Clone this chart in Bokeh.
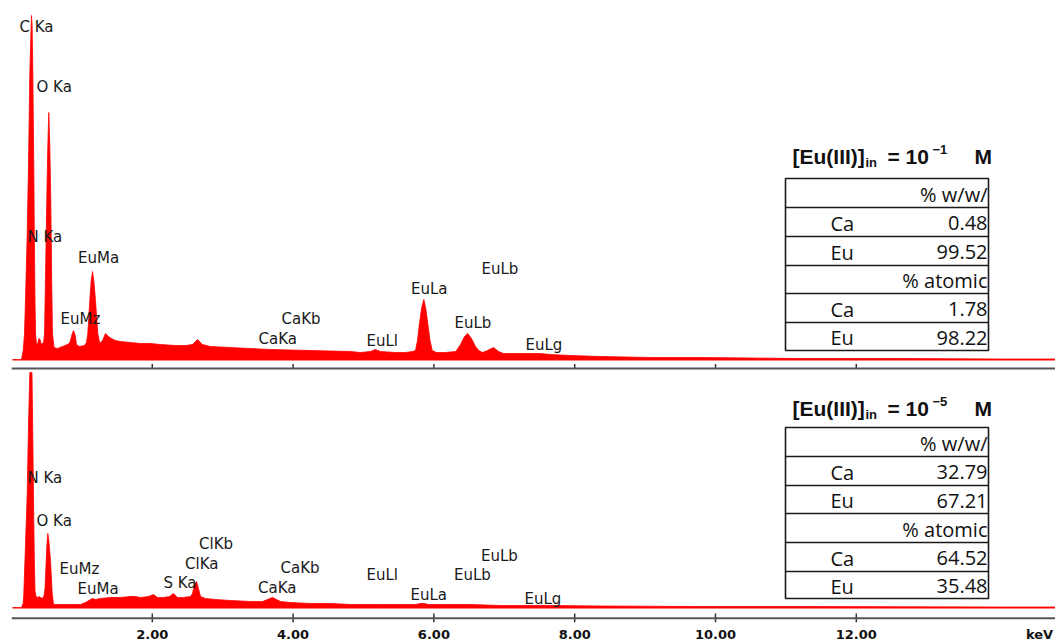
from bokeh.plotting import figure
from bokeh.models import Range1d, FixedTicker, Span
from bokeh.core.properties import value
from bokeh.embed import file_html
from bokeh.resources import INLINE

# ---------------- data ----------------
# EDS spectrum, [Eu(III)]in = 10^-1 M (counts, arbitrary units)
top_kev = [0.014, 0.142, 0.166, 0.185, 0.206, 0.223, 0.241, 0.260, 0.277, 0.284,
           0.293, 0.303, 0.317, 0.324, 0.334, 0.341, 0.355, 0.369, 0.391, 0.405,
           0.426, 0.455, 0.469, 0.487, 0.501, 0.516, 0.530, 0.544, 0.558, 0.571,
           0.582, 0.604, 0.653, 0.724, 0.795, 0.831, 0.859, 0.881, 0.902, 0.923,
           0.966, 1.037, 1.065, 1.084, 1.112, 1.132, 1.151, 1.172, 1.193, 1.226,
           1.254, 1.293, 1.335, 1.378, 1.420, 1.477, 1.548, 1.690, 1.832, 1.974,
           2.116, 2.330, 2.472, 2.571, 2.642, 2.713, 2.827, 3.111, 3.395, 3.679,
           3.963, 4.247, 4.531, 4.815, 4.957, 5.099, 5.170, 5.241, 5.455, 5.597,
           5.696, 5.739, 5.767, 5.795, 5.824, 5.857, 5.885, 5.913, 5.945, 5.976,
           6.037, 6.165, 6.307, 6.321, 6.378, 6.435, 6.482, 6.534, 6.591, 6.638,
           6.690, 6.761, 6.847, 6.918, 6.989, 7.159, 7.372, 7.514, 7.656, 7.940,
           8.366, 9.077, 9.787, 10.497, 11.207, 12.628, 14.048, 14.830]
top_counts = [10, 10, 100, 270, 800, 1270, 1930, 2870, 3300, 3450,
              3350, 2870, 1930, 1270, 600, 270, 170, 160, 220, 210,
              160, 180, 270, 1000, 1600, 2150, 2480, 2150, 1600, 800,
              270, 130, 120, 140, 160, 180, 260, 300, 260, 160,
              140, 150, 180, 270, 600, 800, 890, 780, 600, 270,
              170, 200, 270, 240, 220, 200, 190, 180, 170, 170,
              160, 150, 150, 160, 210, 160, 140, 130, 120, 110,
              105, 100, 95, 90, 80, 90, 110, 90, 80, 80,
              90, 100, 200, 370, 520, 610, 520, 370, 200, 100,
              80, 80, 90, 100, 160, 240, 270, 220, 140, 100,
              80, 100, 130, 90, 70, 70, 70, 70, 60, 50,
              40, 30, 30, 25, 20, 20, 15, 15]

# EDS spectrum, [Eu(III)]in = 10^-5 M
bottom_kev = [0.014, 0.142, 0.166, 0.175, 0.192, 0.209, 0.223, 0.241, 0.260, 0.291,
              0.303, 0.312, 0.324, 0.334, 0.348, 0.369, 0.391, 0.412, 0.440, 0.462,
              0.476, 0.493, 0.504, 0.516, 0.530, 0.554, 0.578, 0.597, 0.696, 0.838,
              0.980, 1.051, 1.122, 1.151, 1.193, 1.264, 1.406, 1.548, 1.690, 1.761,
              1.832, 1.946, 2.017, 2.074, 2.159, 2.244, 2.301, 2.358, 2.443, 2.543,
              2.571, 2.599, 2.628, 2.656, 2.685, 2.756, 2.898, 3.111, 3.395, 3.565,
              3.636, 3.707, 3.764, 3.821, 3.963, 4.247, 4.531, 4.815, 5.241, 5.526,
              5.739, 5.810, 5.867, 5.923, 6.094, 6.520, 6.946, 7.656, 8.366, 9.787,
              11.207, 14.048, 14.830]
bottom_counts = [10, 10, 50, 150, 500, 850, 1150, 1810, 2360, 2360,
                 1700, 1150, 500, 180, 120, 110, 120, 110, 100, 130,
                 200, 480, 650, 750, 680, 480, 150, 40, 40, 40,
                 40, 60, 90, 100, 90, 100, 110, 110, 120, 120,
                 110, 120, 140, 110, 110, 120, 150, 110, 110, 120,
                 150, 240, 270, 200, 120, 100, 90, 80, 70, 70,
                 90, 110, 90, 70, 60, 50, 50, 40, 40, 40,
                 40, 50, 50, 40, 40, 40, 30, 30, 25, 20,
                 20, 15, 15]

tick_kev = [2, 4, 6, 8, 10, 12]
tick_labels = ["2.00", "4.00", "6.00", "8.00", "10.00", "12.00"]
axis_unit = "keV"

top_lines = ["C Ka", "O Ka", "N Ka", "EuMa", "EuMz", "CaKb", "CaKa",
             "EuLl", "EuLa", "EuLb", "EuLb", "EuLg"]
bottom_lines = ["N Ka", "O Ka", "EuMz", "EuMa", "S Ka", "ClKa", "ClKb",
                "CaKb", "CaKa", "EuLl", "EuLb", "EuLb", "EuLa", "EuLg"]

concentration_exp = ["\u22121", "\u22125"]
table_headers = ["% w/w/", "% atomic"]
elements = ["Ca", "Eu"]
wt_percent = [["0.48", "99.52"], ["32.79", "67.21"]]
at_percent = [["1.78", "98.22"], ["64.52", "35.48"]]

# ---------------- layout (pixel positions in the picture) ----------------
W, H = 1055, 644
FRAME_LEFT, FRAME_BOTTOM = 11, 622
PX_PER_KEV = 70.4


def kx(px):
    return (px - FRAME_LEFT) / PX_PER_KEV


def ty(py):  # upper panel
    return (360 - py) * 10


def by(py):  # lower panel
    return (608 - py) * 10


top_line_pos = [(19, 26.5), (36, 86), (27, 236.5), (77.5, 257), (60, 318), (281, 318),
                (258, 338), (366, 340.5), (410.5, 288.5), (481, 268.5), (454, 322), (525, 344.5)]
bottom_line_pos = [(27, 477), (36, 520), (59, 568.5), (77, 588.5), (163, 582.5), (184.5, 563.5),
                   (198.5, 543), (280, 567), (257.5, 587), (366, 574), (453.5, 574), (480.5, 555),
                   (410, 594.5), (524, 598.5)]
unit_pos = kx(1039)

p = figure(width=W, height=H, output_backend="svg", toolbar_location=None,
           title=None, y_axis_location=None,
           x_range=Range1d(0, kx(W)), y_range=Range1d(by(FRAME_BOTTOM), by(0)),
           min_border_left=FRAME_LEFT, min_border_right=0, min_border_top=0,
           min_border_bottom=H - FRAME_BOTTOM)
p.extra_y_ranges = {"top": Range1d(ty(FRAME_BOTTOM), ty(0))}
p.grid.visible = False
p.outline_line_color = None
p.background_fill_color = "white"
p.border_fill_color = "white"

RED = "#ff0000"
# spectra
p.varea(x=top_kev, y1=0, y2=top_counts, fill_color=RED, y_range_name="top")
p.line(top_kev, top_counts, line_color=RED, line_width=0.8, y_range_name="top")
p.varea(x=bottom_kev, y1=0, y2=bottom_counts, fill_color=RED)
p.line(bottom_kev, bottom_counts, line_color=RED, line_width=0.8)

# energy axis: Bokeh axis supplies tick labels (and the unit), lines drawn below
ax = p.xaxis[0]
ax.ticker = FixedTicker(ticks=tick_kev + [unit_pos])
overrides = {k: v for k, v in zip(tick_kev, tick_labels)}
overrides[unit_pos] = axis_unit
ax.major_label_overrides = overrides
ax.axis_line_color = None
ax.major_tick_line_color = None
ax.major_tick_in = 0
ax.major_tick_out = 0
ax.minor_tick_line_color = None
ax.major_label_text_font = "DejaVu Sans"
ax.major_label_text_font_style = "bold"
ax.major_label_text_font_size = "13px"
ax.major_label_text_color = "#111111"
ax.major_label_standoff = 4

AXIS_GREY, TICK_GREY = "#555555", "#333333"
# lower axis line + ticks
p.add_layout(Span(location=by(617.7), dimension="width",
                  line_color=AXIS_GREY, line_width=2))
p.segment(x0=tick_kev, x1=tick_kev, y0=[by(622)] * len(tick_kev),
          y1=[by(613)] * len(tick_kev), line_color=TICK_GREY, line_width=1.5)
# separator axis between the two spectra
p.add_layout(Span(location=ty(368), dimension="width", y_range_name="top",
                  line_color=AXIS_GREY, line_width=2))
p.segment(x0=tick_kev, x1=tick_kev, y0=[ty(368.5)] * len(tick_kev),
          y1=[ty(363.5)] * len(tick_kev), line_color=TICK_GREY, line_width=1.5,
          y_range_name="top")

# peak labels
lab_style = dict(text_font=value("DejaVu Sans"), text_font_size="15px",
                 text_color="#1a1a1a", text_baseline="middle", text_align="left")
p.text(x=[kx(a) for a, b in top_line_pos], y=[ty(b) for a, b in top_line_pos],
       text=top_lines, y_range_name="top", **lab_style)
p.text(x=[kx(a) for a, b in bottom_line_pos], y=[by(b) for a, b in bottom_line_pos],
       text=bottom_lines, **lab_style)


# titles and tables
def panel_extras(i, yconv, rng, base, bounds):
    kw = {} if rng is None else {"y_range_name": rng}
    tfont = value("Liberation Sans")
    pieces = [("[Eu(III)]", 792, base, "21px"), ("in", 865, base + 5.5, "13px"),
              ("=", 887, base, "21px"), ("10", 905, base, "21px"),
              (concentration_exp[i], 932, base - 7.5, "13px"), ("M", 974, base, "21px")]
    for txt, px, py, fs in pieces:
        p.text(x=[kx(px)], y=[yconv(py)], text=[txt], text_font=tfont,
               text_font_style="bold", text_font_size=fs, text_color="#111111",
               text_baseline="alphabetic", text_align="left", **kw)
    p.quad(left=[kx(785)], right=[kx(988)], top=[yconv(bounds[0])], bottom=[yconv(bounds[-1])],
           fill_color=None, line_color="#1a1a1a", line_width=1.6, **kw)
    inner = bounds[1:-1]
    p.segment(x0=[kx(785)] * len(inner), x1=[kx(988)] * len(inner),
              y0=[yconv(r) for r in inner], y1=[yconv(r) for r in inner],
              line_color="#1a1a1a", line_width=1.6, **kw)
    centers = [(bounds[j] + bounds[j + 1]) / 2 + 1 for j in range(6)]
    cell = dict(text_font=value("Open Sans"), text_font_size="20px", text_color="#111111",
                text_baseline="middle")
    p.text(x=[kx(987)] * 2, y=[yconv(centers[0]), yconv(centers[3])], text=table_headers,
           text_align="right", **cell, **kw)
    p.text(x=[kx(830)] * 4, y=[yconv(centers[c]) for c in (1, 2, 4, 5)],
           text=elements + elements, text_align="left", **cell, **kw)
    p.text(x=[kx(987)] * 4, y=[yconv(centers[c]) for c in (1, 2, 4, 5)],
           text=wt_percent[i] + at_percent[i], text_align="right", **cell, **kw)


panel_extras(0, ty, "top", 156, [178, 207, 236, 265, 293, 322, 350])
panel_extras(1, by, None, 408, [427, 456, 485, 513, 542, 571, 598])

open("out.html", "w").write(file_html(p, INLINE))
